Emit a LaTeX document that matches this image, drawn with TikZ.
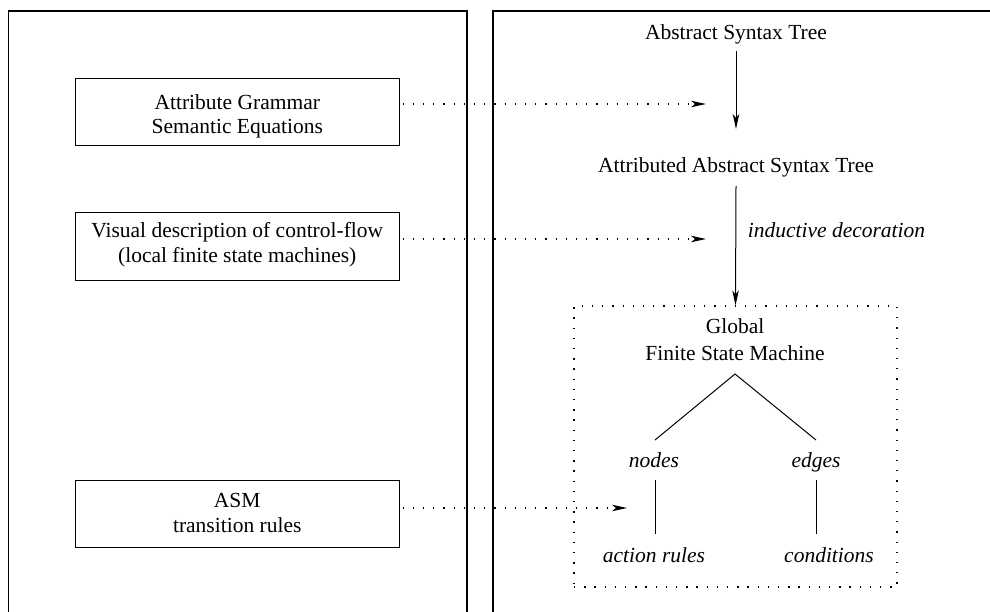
\documentclass[tikz,border=0pt]{standalone}
\usepackage{fontspec}
\setmainfont{Liberation Serif}
\usetikzlibrary{arrows.meta}
\begin{document}
\begin{tikzpicture}[x=1pt,y=-1pt,
  txt/.style={anchor=base,inner sep=0pt,font=\fontsize{21.5}{25}\selectfont},
  itxt/.style={txt,font=\fontsize{21.5}{25}\selectfont\itshape},
  panel/.style={draw,line width=1.1pt},
  srcbox/.style={draw,line width=1pt},
  dotline/.style={line width=1.2pt,dash pattern=on 1.3pt off 8.9pt},
  tip/.style={-{Stealth[length=15pt,width=6.5pt,inset=4pt]}},
  solid line/.style={line width=1pt}]
\useasboundingbox (0,0) rectangle (990,611);
\clip (0,0) rectangle (990,611);
% panels
\draw[panel] (8.5,11) rectangle (467,630);
\draw[panel] (493,11) rectangle (1010,630);
% left boxes
\node[srcbox,minimum width=323.5pt,minimum height=67pt,inner sep=0pt] (ag) at (237.25,111.5) {};
\node[txt] (ag1) at (237.25,109) {Attribute Grammar};
\node[txt] (ag2) at (237.25,133) {Semantic Equations};
\node[srcbox,minimum width=323.5pt,minimum height=68pt,inner sep=0pt] (vd) at (237.25,246.5) {};
\node[txt] (vd1) at (237.25,237.5) {Visual description of control-flow};
\node[txt] (vd2) at (237.25,262) {(local finite state machines)};
\node[srcbox,minimum width=323.5pt,minimum height=67pt,inner sep=0pt] (asm) at (237.25,513.5) {};
\node[txt] (asm1) at (237.25,507) {ASM};
\node[txt] (asm2) at (237.25,532) {transition rules};
% right column
\node[txt] (ast) at (736,39) {Abstract Syntax Tree};
\node[txt] (aast) at (736,172) {Attributed Abstract Syntax Tree};
\node[itxt] (ind) at (836.5,237) {inductive decoration};
\coordinate (a1s) at (736,51);
\coordinate (a1e) at (736,129);
\coordinate (a2s) at (736,186);
\node[draw,dotline,minimum width=323pt,minimum height=281pt,inner sep=0pt] (fsmbox) at (735.5,446.5) {};
\node[txt] (glob1) at (735,333) {Global};
\node[txt] (glob2) at (735,360) {Finite State Machine};
\coordinate (apex) at (735,374);
\coordinate (nl) at (655,440);
\coordinate (el) at (816,440);
\node[itxt] (nodes) at (654,467) {nodes};
\node[itxt] (edges) at (816,467) {edges};
\coordinate (nv1) at (655,480);
\coordinate (nv2) at (655,534);
\coordinate (ev1) at (816,480);
\coordinate (ev2) at (816,534);
\node[itxt] (act) at (654,562) {action rules};
\node[itxt] (cond) at (829,562) {conditions};
% solid arrows
\draw[solid line,tip] (a1s) -- (a1e);
\draw[solid line,tip] (a2s) -- (fsmbox.north);
% tree
\draw[solid line] (nl) -- (apex) -- (el);
\draw[solid line] (nv1) -- (nv2);
\draw[solid line] (ev1) -- (ev2);
% dotted arrows
\coordinate (d1) at (706,104);
\coordinate (d2) at (706,239);
\coordinate (d3) at (627,508);
\draw[dotline,tip] (ag.east |- d1) ++(3,0) -- (d1);
\draw[dotline,tip] (vd.east |- d2) ++(3,0) -- (d2);
\draw[dotline,tip] (asm.east |- d3) ++(3,0) -- (d3);
\end{tikzpicture}
\end{document}
